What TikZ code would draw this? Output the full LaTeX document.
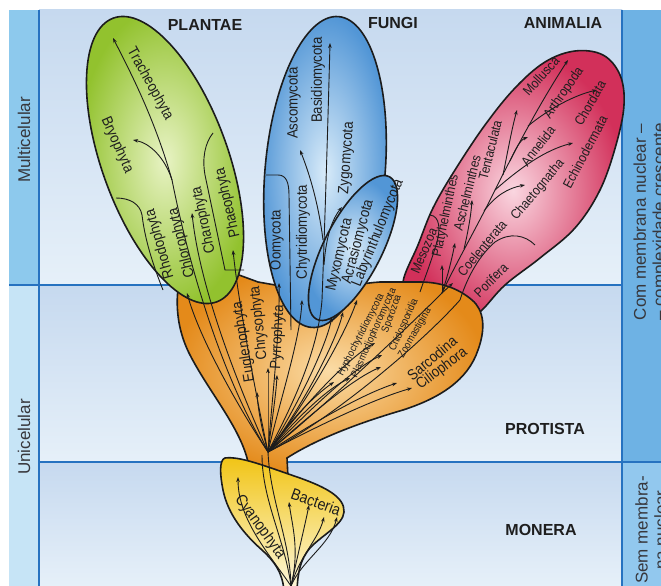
\documentclass[tikz,border=0pt]{standalone}
\usepackage{fontspec}
\setmainfont{Liberation Sans}
\newfontfamily\condfont{Liberation Sans}[FakeStretch=0.88]
\usetikzlibrary{arrows.meta}
\definecolor{fundoTopo}{RGB}{198,217,239}
\definecolor{fundoBase}{RGB}{230,240,249}
\definecolor{faixaMulti}{RGB}{141,201,237}
\definecolor{faixaUni}{RGB}{198,228,246}
\definecolor{faixaDir}{RGB}{110,178,228}
\definecolor{faixaDirB}{RGB}{146,200,238}
\definecolor{linhaAzul}{RGB}{38,114,192}
\definecolor{verdeOut}{RGB}{146,194,46}
\definecolor{verdeIn}{RGB}{232,243,196}
\definecolor{azulOut}{RGB}{82,150,214}
\definecolor{azulIn}{RGB}{216,235,249}
\definecolor{rosaOut}{RGB}{210,48,90}
\definecolor{rosaIn}{RGB}{250,214,224}
\definecolor{laranjaOut}{RGB}{228,138,26}
\definecolor{laranjaIn}{RGB}{251,220,166}
\definecolor{amareloTopo}{RGB}{241,196,20}
\definecolor{amareloMeio}{RGB}{247,222,96}
\definecolor{amareloBase}{RGB}{253,248,222}
\definecolor{contorno}{RGB}{28,28,28}
\definecolor{texto}{RGB}{30,30,30}
\definecolor{lateraltxt}{RGB}{55,55,60}

\begin{document}
\begin{tikzpicture}[x=1pt,y=-1pt,
    ramo/.style={draw=contorno,line width=0.9pt,-{Stealth[length=5pt,width=3.6pt]}},
    divisa/.style={draw=contorno,line width=0.9pt},
    contornoblob/.style={draw=contorno,line width=1.6pt},
    rotulo/.style={font=\condfont\fontsize{15}{15}\selectfont,text=texto,inner sep=0pt},
    rotani/.style={font=\condfont\fontsize{13.5}{13.5}\selectfont,text=texto,inner sep=0pt},
    rotpeq/.style={font=\condfont\fontsize{10.5}{10.5}\selectfont,text=texto,inner sep=0pt},
    reino/.style={font=\bfseries\fontsize{16}{16}\selectfont,text=texto,inner sep=0pt},
    lateral/.style={font=\fontsize{17}{19}\selectfont,text=lateraltxt,rotate=90,align=center,inner sep=0pt},
    faixa/.style={draw=linhaAzul,line width=2.4pt}]
    \useasboundingbox (0,0) rectangle (661,586);
    % fundo e faixas laterais
    \fill[white] (0,0) rectangle (661,586);
    \shade[top color=fundoTopo,bottom color=fundoBase] (39,10) rectangle (622,285);
    \shade[top color=fundoTopo,bottom color=fundoBase] (39,285) rectangle (622,462);
    \shade[top color=fundoTopo,bottom color=fundoBase] (39,462) rectangle (622,586);
    \fill[faixaMulti] (9,10) rectangle (39,285);
    \fill[faixaUni] (9,285) rectangle (39,586);
    \fill[faixaDir] (622,10) rectangle (661,462);
    \fill[faixaDirB] (622,462) rectangle (661,586);
    \draw[faixa] (39,10) -- (39,586);
    \draw[faixa] (622,10) -- (622,586);
    \draw[faixa] (9,285) -- (622,285);
    \draw[faixa] (39,462) -- (661,462);

    % reinos (manchas)
    \shadedraw[contornoblob,inner color=rosaIn,outer color=rosaOut]
      plot[smooth cycle,tension=0.6] coordinates {(410,305) (403,282) (418,245) (433,208)
        (455,170) (485,125) (515,88) (545,62) (575,51) (603,55) (620,75) (624,105)
        (616,145) (600,190) (575,228) (540,258) (505,285) (480,312) (455,330) (425,325)};
    \shadedraw[contornoblob,inner color=laranjaIn,outer color=laranjaOut]
      (184,262) .. controls (176,285) and (172,320) .. (190,355)
      .. controls (208,390) and (238,425) .. (247,458) -- (252,478) -- (288,478) -- (287,458)
      .. controls (315,440) and (355,424) .. (403,410)
      .. controls (440,398) and (468,380) .. (478,350)
      .. controls (486,328) and (484,310) .. (472,300)
      .. controls (458,288) and (440,282) .. (420,282)
      -- (380,282) .. controls (350,284) and (330,292) .. (315,292)
      -- (258,282) -- (220,268) -- cycle;
    \shadedraw[contornoblob,inner color=verdeIn,outer color=verdeOut,rotate around={-70:(165,160)}]
      (165,160) ellipse [x radius=151pt,y radius=63pt];
    \shadedraw[contornoblob,inner color=azulIn,outer color=azulOut,rotate around={85:(325,172)}]
      (325,172) ellipse [x radius=156pt,y radius=60pt];
    \shadedraw[contornoblob,inner color=azulIn,outer color=azulOut,rotate around={63:(353,248)}]
      (353,248) ellipse [x radius=80pt,y radius=29pt];
    \shadedraw[contornoblob,top color=amareloTopo,middle color=amareloMeio,bottom color=amareloBase]
      (225,458) .. controls (240,456) and (265,466) .. (300,478)
      .. controls (325,487) and (345,497) .. (344,512)
      .. controls (343,525) and (322,535) .. (310,548)
      .. controls (300,560) and (298,572) .. (297,590) -- (284,590)
      .. controls (282,572) and (275,562) .. (262,550)
      .. controls (245,535) and (228,515) .. (223,490)
      .. controls (220,475) and (219,460) .. (225,458) -- cycle;

    % divisas internas
    \draw[divisa] (116,198) .. controls (130,198) and (140,204) .. (142,215)
      .. controls (145,240) and (153,265) .. (163,290);
    \draw[divisa] (213,133) .. controls (205,143) and (202,158) .. (205,175) -- (225,270) -- (244,270);
    \draw[divisa] (266,175) -- (278,175) .. controls (286,175) and (289,182) .. (289,195) -- (291,330);
    \draw[divisa] (430,215) .. controls (440,216) and (441,230) .. (436,245)
      .. controls (431,262) and (424,280) .. (420,292);

    \coordinate (raizProt) at (268,452);
    \coordinate (raizAni) at (442,293);
    \coordinate (raizMon) at (291,586);

    % Monera
    \draw[ramo] (raizMon) .. controls (270,555) and (238,520) .. (238,477);
    \draw[ramo] (raizMon) .. controls (300,550) and (292,525) .. (289,502);
    \draw[ramo] (raizMon) .. controls (300,545) and (305,525) .. (309,505);
    \draw[ramo] (raizMon) .. controls (300,555) and (318,540) .. (324,517);
    \draw[ramo] (raizMon) .. controls (302,560) and (330,545) .. (337,517);
    \draw[divisa] (raizMon) .. controls (285,540) and (262,500) .. (262,455);
    \draw[divisa] (raizMon) .. controls (290,540) and (270,500) .. (raizProt);

    % Protista -> Plantae
    \draw[ramo] (raizProt) .. controls (238,405) and (198,310) .. (172,180)
      .. controls (155,120) and (132,75) .. (113,38);
    \draw[ramo] (172,180) .. controls (165,158) and (150,143) .. (133,140);
    \draw[ramo] (raizProt) .. controls (240,410) and (200,340) .. (187,293);
    \draw[ramo] (raizProt) .. controls (240,390) and (200,290) .. (192,213);
    \draw[ramo] (raizProt) .. controls (255,390) and (238,300) .. (233,250);
    % Protista
    \draw[ramo] (raizProt) .. controls (262,430) and (258,410) .. (257,392);
    \draw[ramo] (raizProt) .. controls (268,420) and (268,390) .. (268,368);
    \draw[ramo] (raizProt) .. controls (272,420) and (276,395) .. (277,375);
    % Protista -> Fungi
    \draw[ramo] (raizProt) .. controls (272,400) and (280,330) .. (279,283);
    \draw[ramo] (raizProt) .. controls (280,400) and (300,340) .. (302,300);
    \draw[ramo] (raizProt) .. controls (295,400) and (318,350) .. (322,300)
      .. controls (325,220) and (328,120) .. (330,43);
    \draw[ramo] (323,240) .. controls (318,200) and (308,170) .. (300,150);
    \draw[ramo] (324,265) .. controls (326,235) and (333,218) .. (342,207);
    \draw[ramo] (raizProt) .. controls (295,410) and (325,350) .. (332,317);
    \draw[ramo] (raizProt) .. controls (300,410) and (335,345) .. (343,312);
    \draw[ramo] (raizProt) .. controls (305,405) and (345,335) .. (357,300);
    % Protista (direita)
    \draw[ramo] (raizProt) .. controls (290,420) and (315,395) .. (334,382);
    \draw[ramo] (raizProt) .. controls (295,420) and (325,390) .. (350,378);
    \draw[ramo] (raizProt) .. controls (300,410) and (345,360) .. (375,343);
    \draw[ramo] (raizProt) .. controls (305,415) and (350,370) .. (382,355);
    \draw[ramo] (raizProt) .. controls (305,420) and (350,380) .. (381,367);
    \draw[ramo] (raizProt) .. controls (310,425) and (360,395) .. (397,383);
    \draw[ramo] (raizProt) .. controls (310,430) and (370,400) .. (412,388);
    % Protista -> Animalia
    \draw[divisa] (raizProt) .. controls (320,410) and (400,335) .. (raizAni);
    \draw[divisa] (raizProt) .. controls (330,420) and (420,345) .. (460,300)
      .. controls (468,275) and (480,255) .. (495,242) .. controls (510,232) and (525,235) .. (535,245);
    \draw[ramo] (raizAni) -- (442,265);
    \draw[ramo] (raizAni) -- (453,283);
    \draw[ramo] (raizAni) .. controls (448,275) and (452,258) .. (455,243);
    \draw[ramo] (raizAni) .. controls (455,265) and (478,225) .. (495,190)
      .. controls (520,140) and (545,95) .. (568,60);
    \draw[ramo] (464,249) .. controls (468,232) and (471,215) .. (472,200);
    \draw[ramo] (484,211) .. controls (495,196) and (508,188) .. (525,185);
    \draw[ramo] (495,190) .. controls (520,168) and (545,150) .. (573,143);
    \draw[ramo] (503,175) .. controls (508,150) and (512,128) .. (517,110);
    \draw[ramo] (510,161) .. controls (515,150) and (520,140) .. (528,137);
    \draw[ramo] (528,126) .. controls (550,108) and (575,95) .. (597,90);

    % rotulos - Plantae
    \node[rotulo,rotate=-61] (tracheo) at (150,84) {Tracheophyta};
    \node[rotulo,rotate=-66] (bryo) at (117,145) {Bryophyta};
    \node[rotulo,rotate=106] (rhodo) at (160,244) {Rhodophyta};
    \node[rotulo,rotate=104] (chloro) at (182,243) {Chlorophyta};
    \node[rotulo,rotate=102] (charo) at (204,220) {Charophyta};
    \node[rotulo,rotate=103] (phaeo) at (228,203) {Phaeophyta};
    % rotulos - Fungi
    \node[rotulo,rotate=90] (oomy) at (277,240) {Oomycota};
    \node[rotulo,rotate=90] (chytri) at (303,232) {Chytridiomycota};
    \node[rotulo,rotate=90] (asco) at (294,103) {Ascomycota};
    \node[rotulo,rotate=90] (basidio) at (318,80) {Basidiomycota};
    \node[rotulo,rotate=86] (zygo) at (347,158) {Zygomycota};
    \node[rotulo,rotate=77] (myxo) at (340,255) {Myxomycota};
    \node[rotulo,rotate=75] (acrasio) at (358,242) {Acrasiomycota};
    \node[rotulo,rotate=68] (labyr) at (378,233) {Labyrinthulomycota};
    % rotulos - Animalia
    \node[rotani,rotate=67] (meso) at (424,251) {Mesozoa};
    \node[rotani,rotate=78] (platy) at (446,216) {Platyhelminthes};
    \node[rotani,rotate=76] (aschel) at (467,193) {Aschelminthes};
    \node[rotani,rotate=76] (tentac) at (490,150) {Tentaculata};
    \node[rotani,rotate=50] (coelen) at (482,248) {Coelenterata};
    \node[rotani,rotate=45] (porif) at (491,280) {Porifera};
    \node[rotani,rotate=50] (chaeto) at (538,190) {Chaetognatha};
    \node[rotani,rotate=62] (echino) at (585,152) {Echinodermata};
    \node[rotani,rotate=52] (annel) at (538,146) {Annelida};
    \node[rotani,rotate=55] (arthro) at (564,93) {Arthropoda};
    \node[rotani,rotate=60] (chorda) at (590,103) {Chordata};
    \node[rotani,rotate=48] (mollu) at (541,76) {Mollusca};
    % rotulos - Protista
    \node[rotulo,rotate=99] (eugle) at (244,342) {Euglenophyta};
    \node[rotulo,rotate=96] (chryso) at (259,323) {Chrysophyta};
    \node[rotulo,rotate=87] (pyrro) at (278,337) {Pyrrophyta};
    \node[rotpeq,rotate=63] (hypho) at (361,335) {Hyphochytridiomycota};
    \node[rotpeq,rotate=66] (plasmo) at (374,333) {Plasmodiophoromycota};
    \node[rotpeq,rotate=70] (sporo) at (392,314) {Sporozoa};
    \node[rotpeq,rotate=66] (cnido) at (404,325) {Cnidosporidia};
    \node[rotpeq,rotate=60] (zooma) at (415,333) {Zoomastigina};
    \node[rotulo,rotate=40] (sarco) at (432,358) {Sarcodina};
    \node[rotulo,rotate=37] (cilio) at (442,369) {Ciliophora};
    % rotulos - Monera
    \node[rotulo,font=\condfont\fontsize{16}{16}\selectfont,rotate=-54] (cyano) at (260,527) {Cyanophyta};
    \node[rotulo,font=\condfont\fontsize{16}{16}\selectfont,rotate=-20] (bact) at (316,502) {Bacteria};

    % titulos dos reinos e faixas
    \node[reino] (plantae) at (205,25) {PLANTAE};
    \node[reino] (fungi) at (393,23) {FUNGI};
    \node[reino] (animalia) at (563,23) {ANIMALIA};
    \node[reino] (protista) at (545,429) {PROTISTA};
    \node[reino] (monera) at (541,530) {MONERA};
    \node[lateral] (multi) at (24,140) {Multicelular};
    \node[lateral] (uni) at (24,437) {Unicelular};
    \node[lateral] (commemb) at (651,222) {Com membrana nuclear –\\– complexidade crescente};
    \node[lateral] (semmemb) at (651,530) {Sem membra-\\na nuclear};
\end{tikzpicture}
\end{document}
